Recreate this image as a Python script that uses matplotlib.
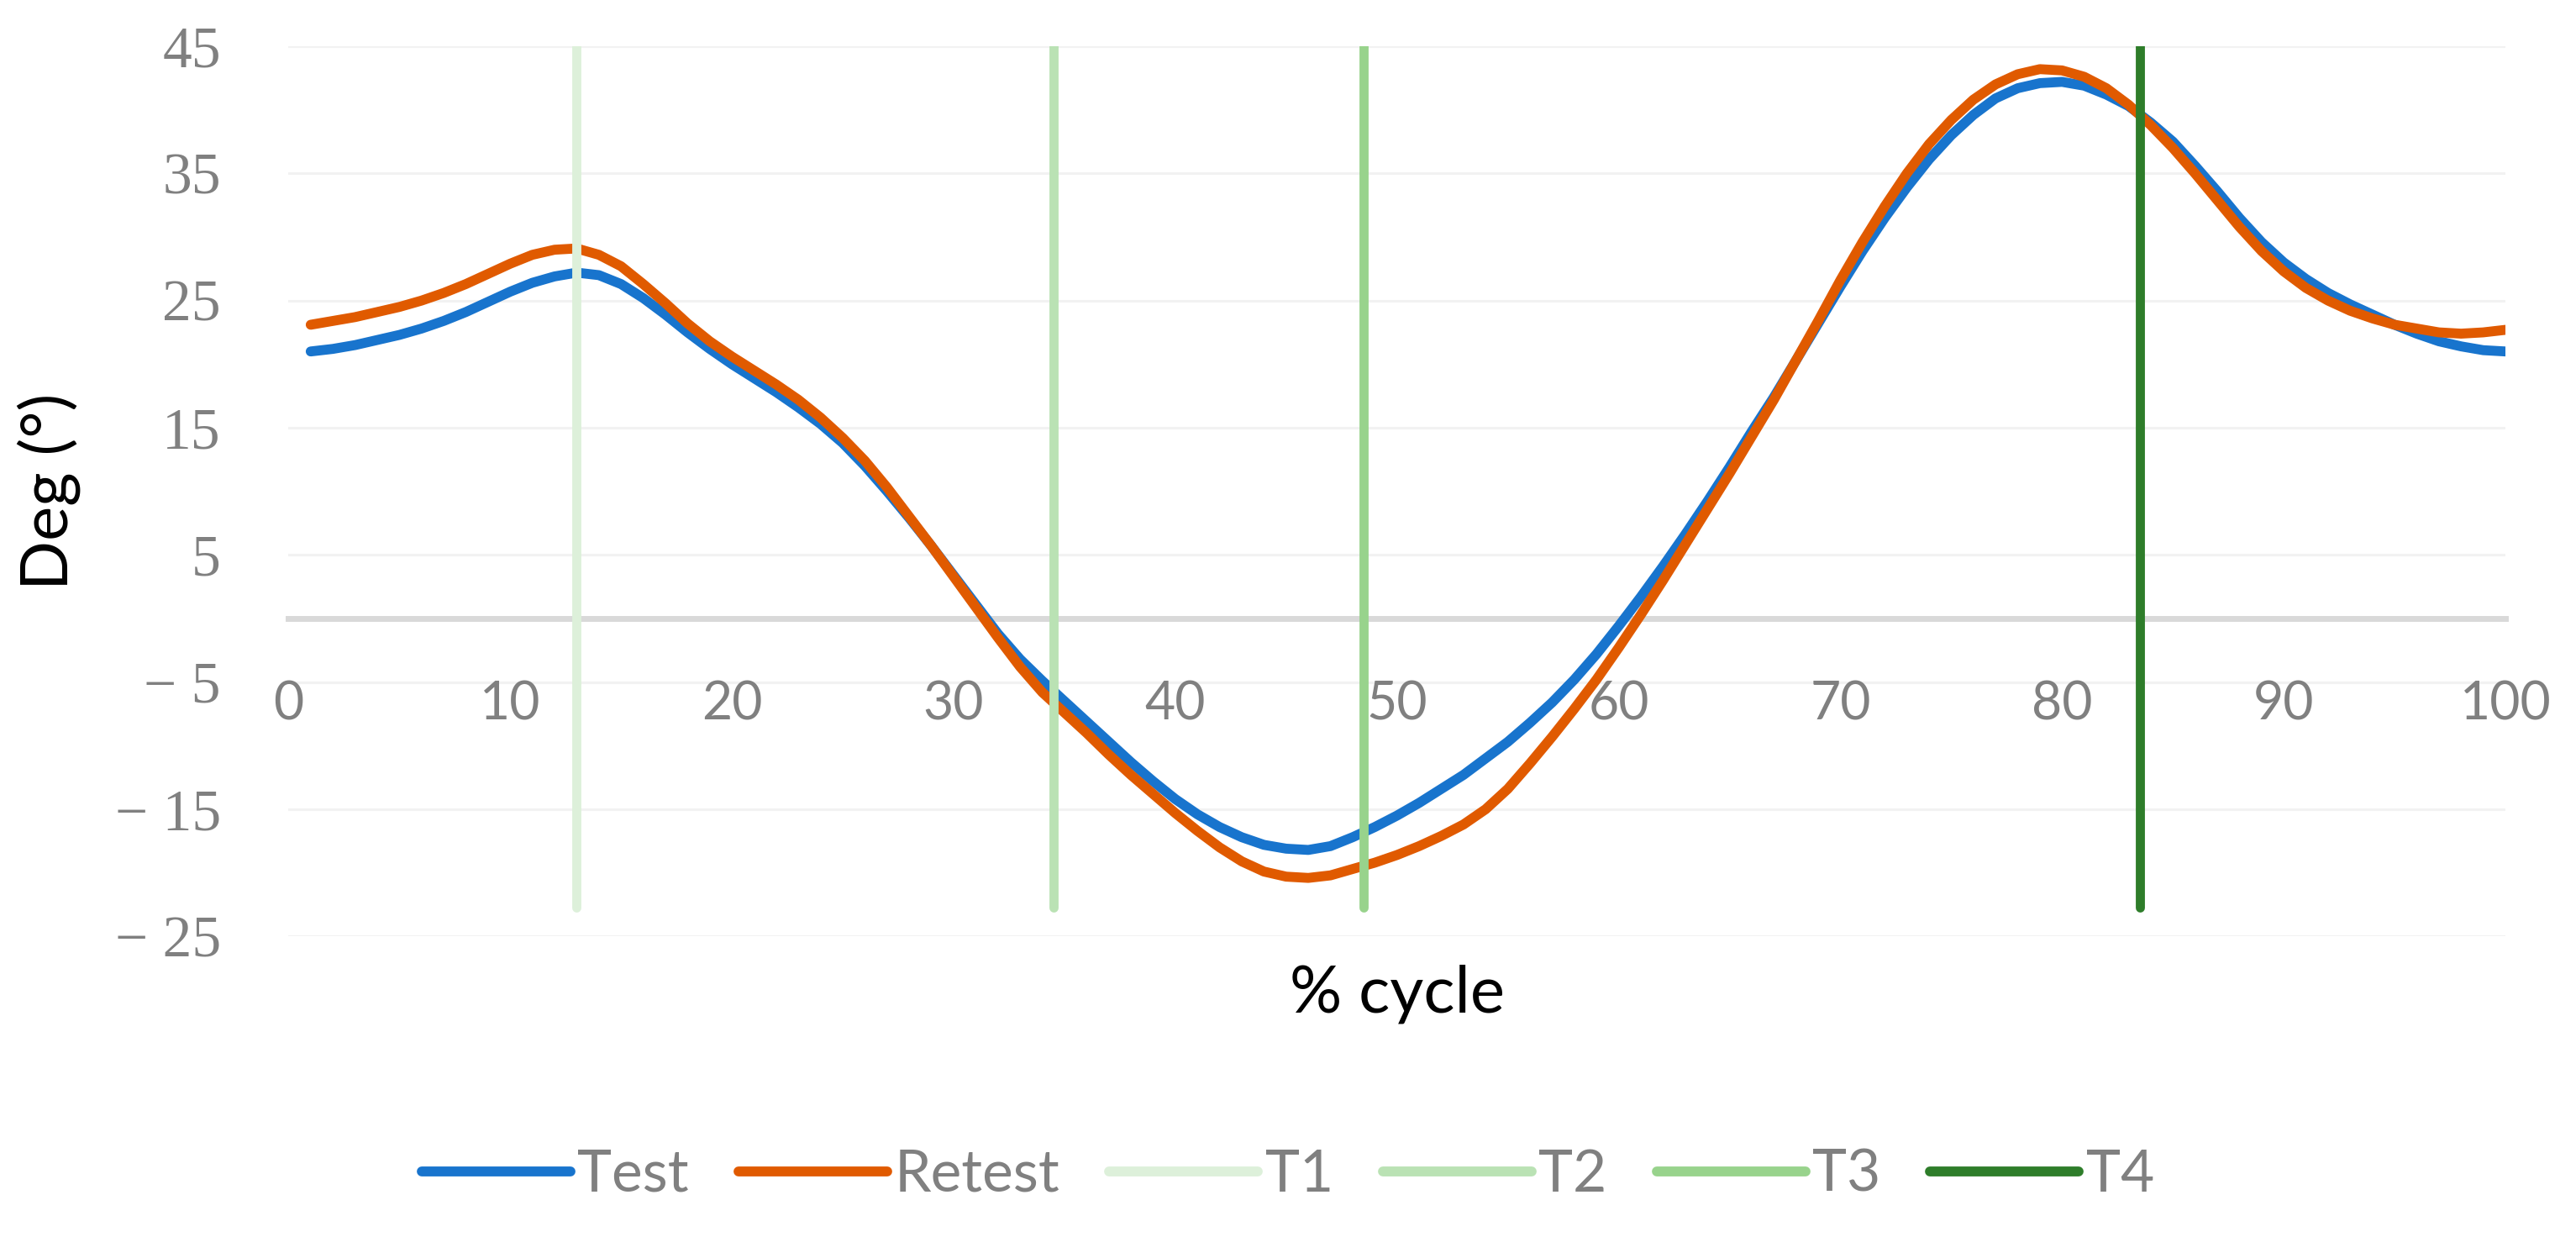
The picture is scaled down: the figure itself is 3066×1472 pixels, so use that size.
import matplotlib
matplotlib.use("Agg")
import matplotlib.pyplot as plt

# ---- data ----
x_pct = list(range(1, 101))
test = [21.0, 21.2, 21.5, 21.9, 22.3, 22.8, 23.4, 24.1, 24.9, 25.7,
        26.4, 26.9, 27.2, 27.0, 26.3, 25.2, 23.9, 22.5, 21.2, 20.0,
        18.9, 17.8, 16.6, 15.3, 13.8, 12.0, 10.0, 7.9, 5.7, 3.4,
        1.1, -1.2, -3.2, -4.9, -6.5, -8.1, -9.7, -11.3, -12.8, -14.2,
        -15.4, -16.4, -17.2, -17.8, -18.1, -18.2, -17.9, -17.2, -16.4, -15.5,
        -14.5, -13.4, -12.3, -11.0, -9.7, -8.2, -6.6, -4.8, -2.8, -0.6,
        1.7, 4.1, 6.6, 9.2, 11.9, 14.7, 17.4, 20.3, 23.2, 26.1,
        28.9, 31.5, 33.9, 36.1, 38.0, 39.6, 40.9, 41.7, 42.1, 42.2,
        41.9, 41.2, 40.3, 39.0, 37.5, 35.6, 33.6, 31.5, 29.6, 28.0,
        26.7, 25.6, 24.7, 23.9, 23.1, 22.4, 21.8, 21.4, 21.1, 21.0]
retest = [23.1, 23.4, 23.7, 24.1, 24.5, 25.0, 25.6, 26.3, 27.1, 27.9,
          28.6, 29.0, 29.1, 28.6, 27.7, 26.3, 24.8, 23.2, 21.8, 20.6,
          19.5, 18.4, 17.2, 15.8, 14.2, 12.4, 10.3, 8.0, 5.7, 3.3,
          0.9, -1.5, -3.8, -5.8, -7.4, -9.0, -10.7, -12.3, -13.8, -15.3,
          -16.7, -18.0, -19.1, -19.9, -20.3, -20.4, -20.2, -19.7, -19.2, -18.6,
          -17.9, -17.1, -16.2, -15.0, -13.4, -11.4, -9.3, -7.1, -4.8, -2.3,
          0.3, 3.0, 5.8, 8.6, 11.4, 14.3, 17.2, 20.3, 23.4, 26.6,
          29.6, 32.4, 35.0, 37.3, 39.2, 40.8, 42.0, 42.8, 43.2, 43.1,
          42.6, 41.7, 40.4, 38.8, 37.0, 35.0, 32.9, 30.8, 28.9, 27.3,
          26.0, 25.0, 24.2, 23.6, 23.1, 22.8, 22.5, 22.4, 22.5, 22.7]
markers = ["T1", "T2", "T3", "T4"]
marker_x = [13.0, 34.5, 48.5, 83.5]
marker_ymin = -22.7
marker_ymax = 45
x_ticks = [0, 10, 20, 30, 40, 50, 60, 70, 80, 90, 100]
y_ticks = [-25, -15, -5, 5, 15, 25, 35, 45]
y_tick_labels = ["\u2212 25", "\u2212 15", "\u2212 5", "5", "15", "25", "35", "45"]

# ---- style ----
SANS = ["Lato", "DejaVu Sans"]
plt.rcParams["font.family"] = SANS
c_test = "#1874CD"
c_retest = "#E05A00"
c_marks = ["#DDF0DA", "#BAE2B4", "#98D38C", "#2E7D2A"]
gray = "#808080"

fig = plt.figure(figsize=(30.66, 14.72), dpi=100)
ax = fig.add_axes([0.112, 0.243, 0.8606, 0.7196])

ax.set_xlim(0, 100)
ax.set_ylim(-25, 45)

for yv in y_ticks:
    ax.axhline(yv, color="#F2F2F2", lw=2.2, zorder=0)

for s in ["top", "right", "left"]:
    ax.spines[s].set_visible(False)
ax.spines["bottom"].set_position(("data", 0))
ax.spines["bottom"].set_color("#D9D9D9")
ax.spines["bottom"].set_linewidth(5)
ax.spines["bottom"].set_zorder(1)

ax.plot(x_pct, test, color=c_test, lw=8.5, solid_capstyle="round", solid_joinstyle="round", label="Test", zorder=3)
ax.plot(x_pct, retest, color=c_retest, lw=8.5, solid_capstyle="round", solid_joinstyle="round", label="Retest", zorder=3)
for name, xv, col in zip(markers, marker_x, c_marks):
    ax.plot([xv, xv], [marker_ymin, marker_ymax], color=col, lw=7.8, solid_capstyle="round", label=name, zorder=4)

ax.set_xticks(x_ticks)
ax.set_xticklabels([str(v) for v in x_ticks], fontsize=45, color=gray, family=SANS)
ax.set_yticks(y_ticks)
ax.set_yticklabels(y_tick_labels, fontsize=50, color=gray, family=["Liberation Serif", "DejaVu Serif"])
ax.tick_params(axis="x", length=0, pad=53)
ax.tick_params(axis="y", length=0, pad=58)

ax.set_xlabel("% cycle", fontsize=56, color="black", va="center")
ax.xaxis.set_label_coords(0.5, -0.065)
ax.set_ylabel("Deg (\u00b0)", fontsize=56, color="black", va="center")
ax.yaxis.set_label_coords(-0.108, 0.5)

leg = fig.legend(loc="center", bbox_to_anchor=(0.5, 0.05), ncol=6, frameon=False,
                 fontsize=50, handlelength=2.55, handletextpad=0.12, columnspacing=0.85)
for t in leg.get_texts():
    t.set_color(gray)
for h in leg.get_lines():
    h.set_linewidth(8.5)
    h.set_solid_capstyle("round")

fig.savefig("out.png", dpi=100)
